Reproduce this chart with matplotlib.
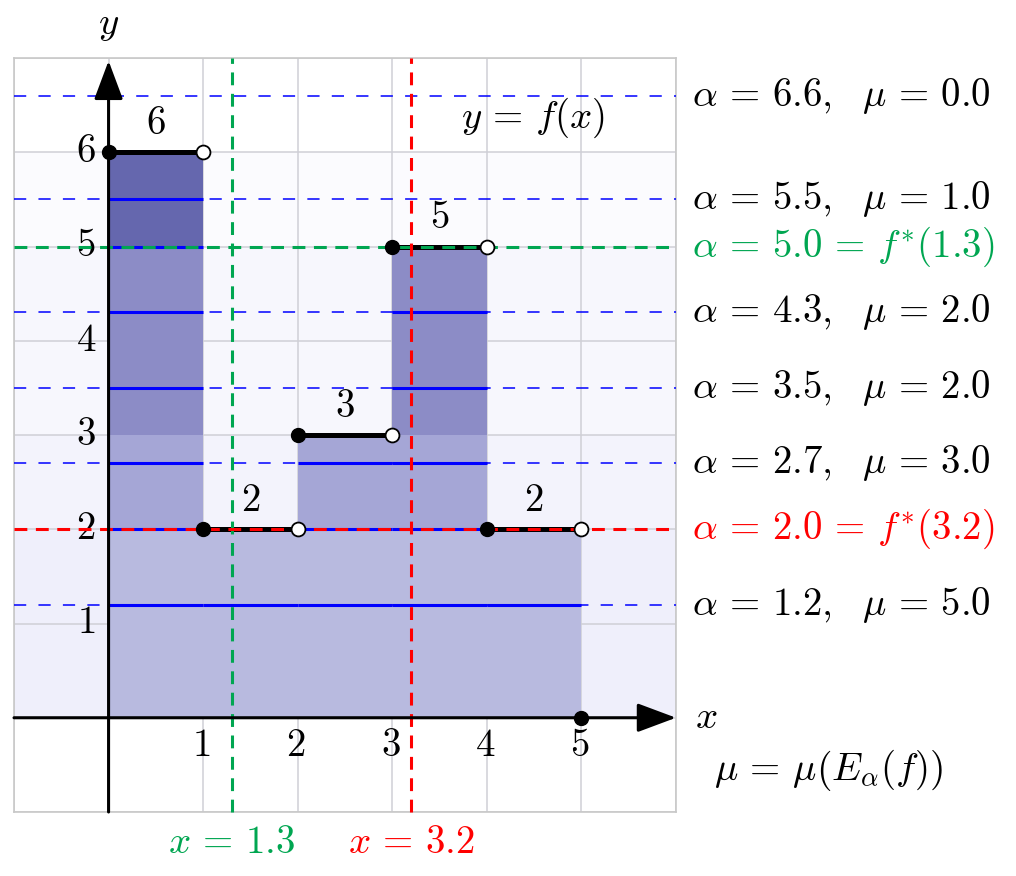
import numpy as np
import matplotlib
matplotlib.use("Agg")
import matplotlib.pyplot as plt

plt.rcParams['mathtext.fontset'] = 'cm'
plt.rcParams['font.family'] = 'serif'
plt.rcParams['font.serif'] = ['cmr10']
plt.rcParams['axes.formatter.use_mathtext'] = True

# funcion escalonada f: valor constante en [x_left, x_left+1)
x_left = [0, 1, 2, 3, 4]
f_vals = [6, 2, 3, 5, 2]

# niveles alpha y medida mu del conjunto {f > alpha}
alphas = [6.6, 5.5, 4.3, 3.5, 2.7, 1.2]
mus = [0.0, 1.0, 2.0, 2.0, 3.0, 5.0]

# cortes especiales x -> f*(x)
cut_x = [1.3, 3.2]
cut_alpha = [5.0, 2.0]
cut_colors = ['#00a651', '#ff0000']

# bandas de relleno (nivel inferior, superior) y colores
band_lo = [0, 2, 3, 5]
band_hi = [2, 3, 5, 6]
band_colors = ['#b8badf', '#a5a6d6', '#8c8cc6', '#6567ae']
bg_levels = [6, 5, 3, 2]

xticks = [1, 2, 3, 4, 5]
yticks = [1, 2, 3, 4, 5, 6]

fs = 28
EQ = r'\,=\,'

fig = plt.figure(figsize=(10.16, 8.76), dpi=100)
ax = fig.add_axes([14 / 1016, 64 / 876, 662 / 1016, 754 / 876])
ax.set_xlim(-1, 6)
ax.set_ylim(-1, 7)
ax.set_xticks([])
ax.set_yticks([])
for s in ax.spines.values():
    s.set_color('#c8c8c8')
    s.set_linewidth(1.2)

# fondo por capas
for lv in bg_levels:
    ax.axhspan(0, lv, color=(0.4, 0.4, 0.92), alpha=0.024, lw=0, zorder=0)

# cuadricula
for gx in range(-1, 7):
    ax.axvline(gx, color='#cfcfd6', lw=1.1, zorder=1)
for gy in range(-1, 8):
    ax.axhline(gy, color='#cfcfd6', lw=1.1, zorder=1)

# rellenos: {f >= nivel superior} para cada banda
for lo, hi, c in zip(band_lo, band_hi, band_colors):
    for xl, fv in zip(x_left, f_vals):
        if fv >= hi:
            ax.fill_between([xl, xl + 1], lo, hi, color=c, lw=0, zorder=2)

# lineas horizontales alpha: discontinuas + tramo continuo donde f > alpha
all_alpha = alphas + cut_alpha
for a in all_alpha:
    if a not in cut_alpha:
        ax.axhline(a, color='#0000ff', lw=1.1, ls=(0, (8, 8)), zorder=3)
    for xl, fv in zip(x_left, f_vals):
        if fv > a:
            ax.plot([xl, xl + 1], [a, a], color='#0000ff', lw=2.2, zorder=3,
                    solid_capstyle='butt')

# grafica de f
for xl, fv in zip(x_left, f_vals):
    ax.plot([xl, xl + 1], [fv, fv], color='k', lw=3.6, zorder=4,
            solid_capstyle='butt')
    ax.text(xl + 0.5, fv + 0.3, '$%d$' % fv, fontsize=fs, ha='center',
            va='center', zorder=6)

# cortes especiales
for cx, ca, cc in zip(cut_x, cut_alpha, cut_colors):
    ax.axhline(ca, color=cc, lw=2.2, ls=(0, (4.2, 2.8)), zorder=5)
    ax.plot([cx, cx], [-1, 7], color=cc, lw=2.2, ls=(0, (4.2, 2.8)), zorder=5,
            clip_on=False)
    ax.text(cx, -1.33, '$x%s%.1f$' % (EQ, cx), color=cc, fontsize=fs,
            ha='center', va='center', clip_on=False)

# ejes con flecha
ax.annotate('', xy=(6, 0), xytext=(-1, 0), zorder=7,
            arrowprops=dict(arrowstyle='-|>,head_length=0.75,head_width=0.28',
                            mutation_scale=32, lw=2.2, color='k',
                            shrinkA=0, shrinkB=0))
ax.annotate('', xy=(0, 6.97), xytext=(0, -1), zorder=7,
            arrowprops=dict(arrowstyle='-|>,head_length=0.75,head_width=0.28',
                            mutation_scale=32, lw=2.2, color='k',
                            shrinkA=0, shrinkB=0))

# puntos cerrados y abiertos
ax.plot(x_left, f_vals, 'o', ms=10, color='k', zorder=8)
ax.plot([x + 1 for x in x_left], f_vals, 'o', ms=10, mfc='white',
        mec='k', mew=1.3, zorder=8)
ax.plot([5], [0], 'o', ms=10, color='k', zorder=8, clip_on=False)

# etiquetas de ticks
for t in xticks:
    ax.text(t - 0.02, -0.3, '$%d$' % t, fontsize=fs, ha='center', va='center')
for t in yticks:
    ax.text(-0.24, t, '$%d$' % t, fontsize=fs, ha='center', va='center')

ax.text(0, 7.35, '$y$', fontsize=fs, ha='center', va='center', clip_on=False)
ax.text(6.2, 0.0, '$x$', fontsize=fs, ha='left', va='center', clip_on=False)
ax.text(4.49, 6.36, '$y%sf(x)$' % EQ, fontsize=fs, ha='center', va='center',
        zorder=6)

# etiquetas a la derecha
for a, m in zip(alphas, mus):
    ax.text(6.17, a, r'$\alpha%s%.1f,\ \ \mu%s%.1f$' % (EQ, a, EQ, m),
            fontsize=fs, ha='left', va='center', clip_on=False)
for cx, ca, cc in zip(cut_x, cut_alpha, cut_colors):
    ax.text(6.17, ca, r'$\alpha%s%.1f%sf^{*}(%.1f)$' % (EQ, ca, EQ, cx),
            color=cc, fontsize=fs, ha='left', va='center', clip_on=False)
ax.text(6.4, -0.55, r'$\mu%s\mu\left(E_\alpha(f)\right)$' % EQ, fontsize=fs,
        ha='left', va='center', clip_on=False)

fig.savefig('out.png', dpi=100)
